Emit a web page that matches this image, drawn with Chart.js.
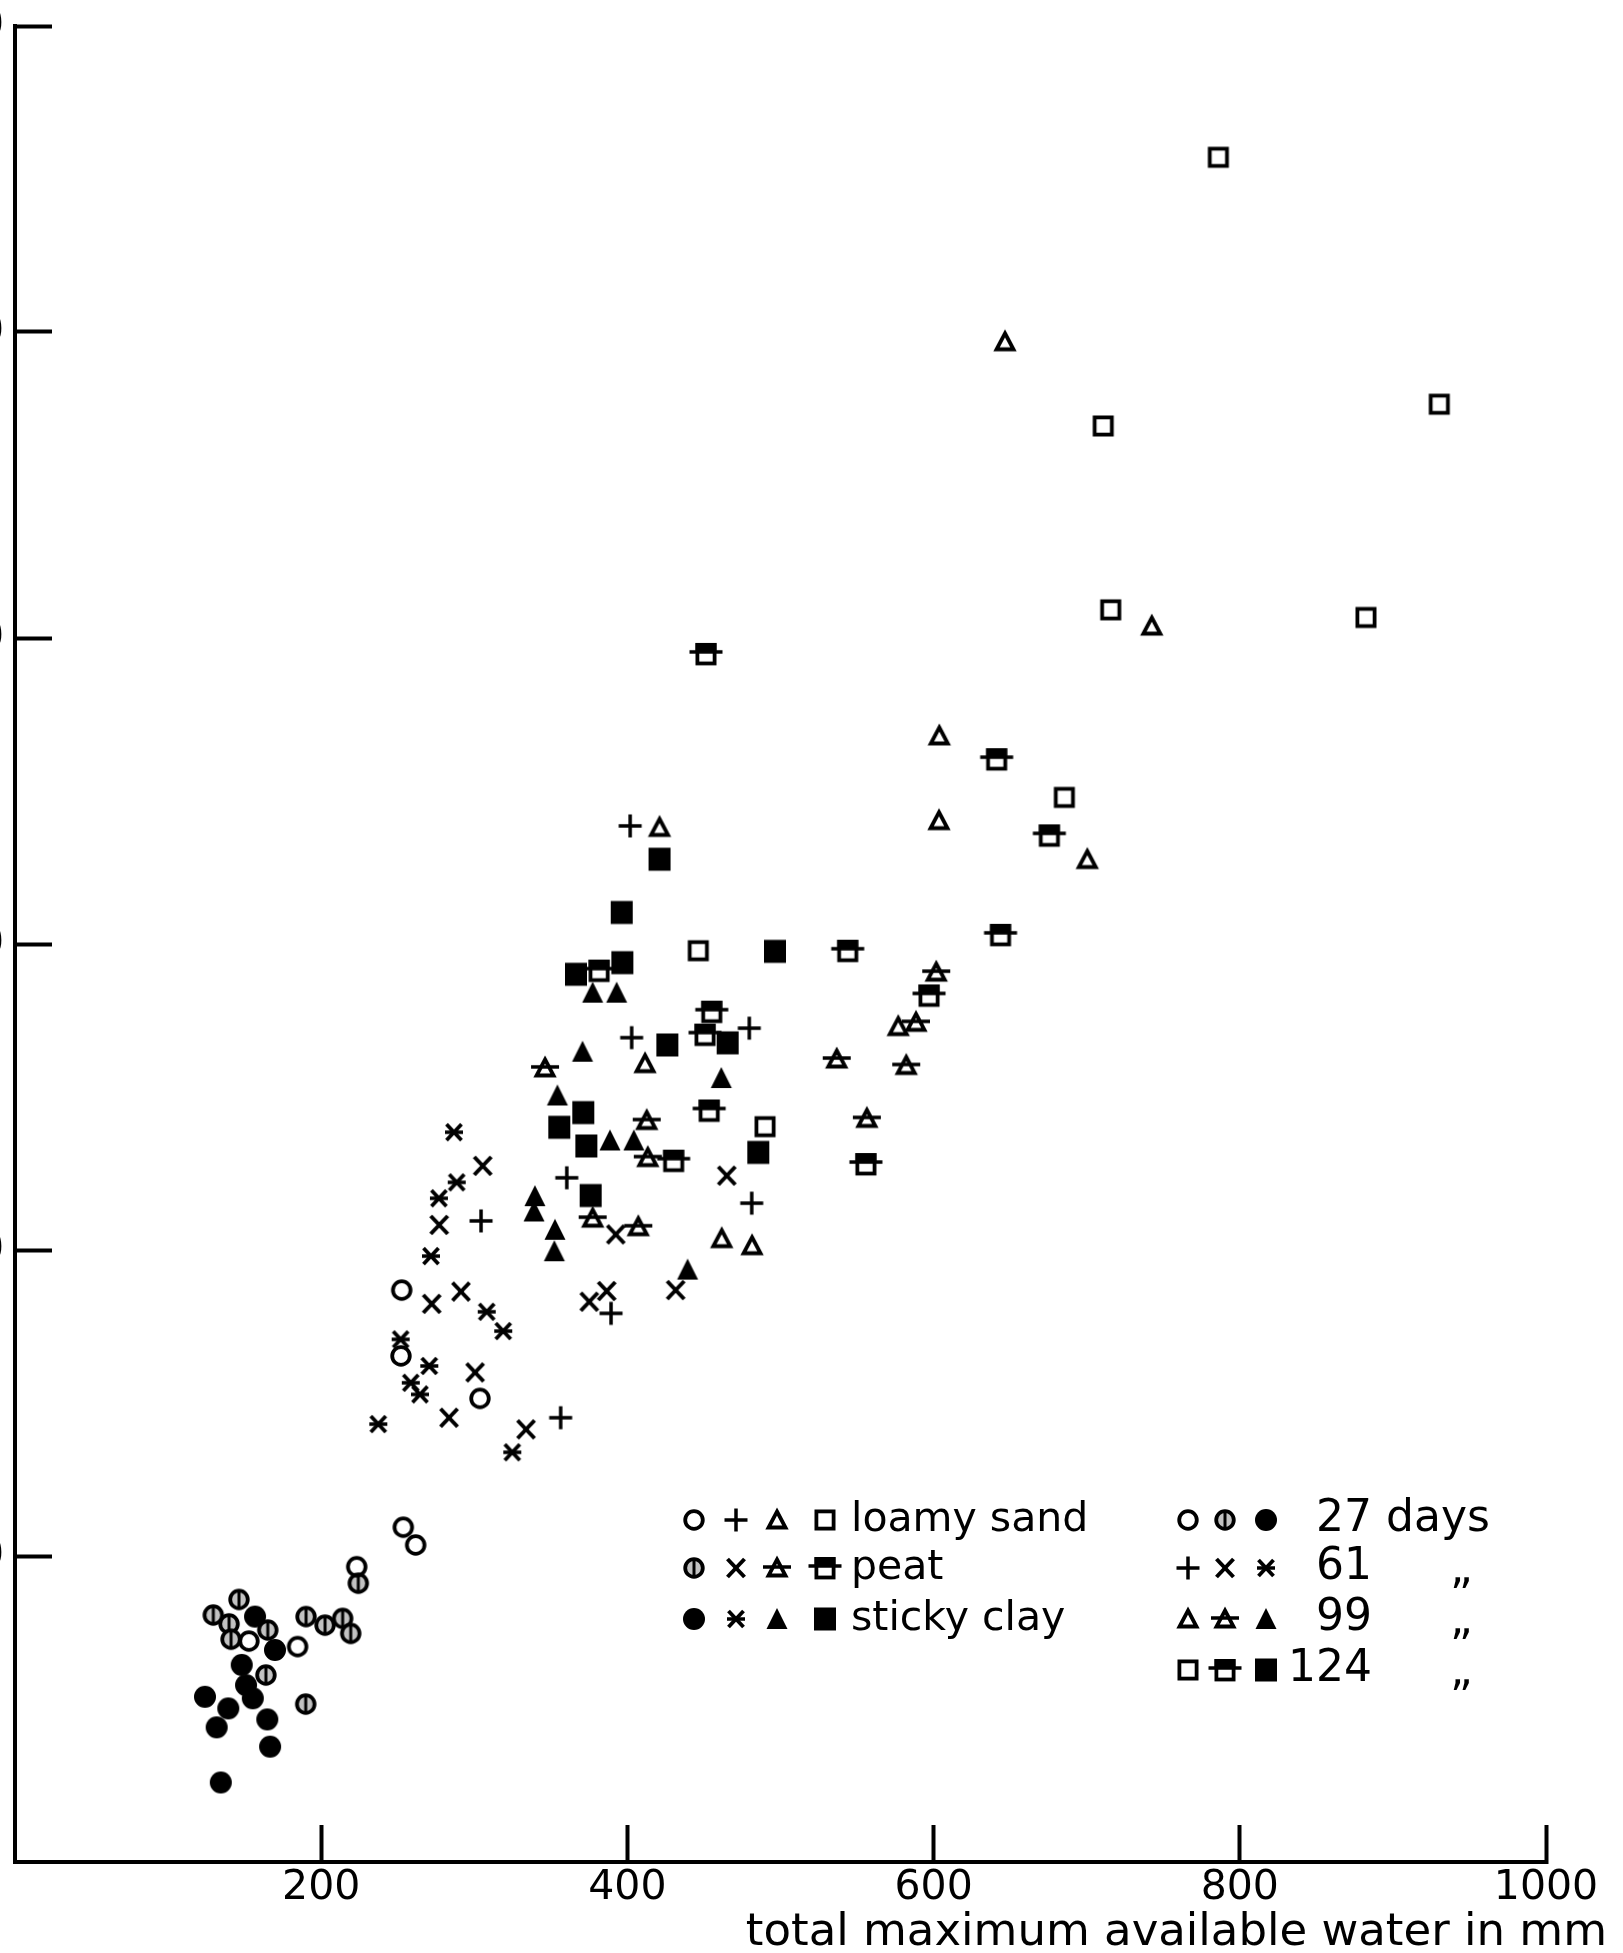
<!DOCTYPE html>
<html>
<head>
<meta charset="utf-8">
<script src="https://cdn.jsdelivr.net/npm/chart.js@4/dist/chart.umd.min.js"></script>
<style>
  html, body { margin: 0; padding: 0; background: #fff; }
  #wrap { position: relative; width: 1623px; height: 1953px; }
</style>
</head>
<body>
<div id="wrap"><canvas id="chart"></canvas></div>
<script>
// legend categories
const soils = ['loamy sand', 'peat', 'sticky clay'];
const days = ['27', '61', '99', '124'];

// axis ticks
const xTickValues = [200, 400, 600, 800, 1000];
const yTickValues = [100, 200, 300, 400, 500, 600];
const xTitle = 'total maximum available water in mm';

// points: [total max available water, y]
const sand27 = [[253.6,109.4],[261.7,103.6],[223.2,96.5],[184.6,70.4],[152.8,72.2],[252.6,186.9],[252.1,165.4],[303.7,151.5]];
const sand61 = [[401.8,338.6],[479.6,272.5],[402.8,269.4],[360.4,223.6],[481.2,215.3],[304.4,209.5],[389.3,179.3],[356.4,145.2]];
const sand99 = [[646.6,496.8],[742.5,403.9],[603.7,368.0],[603.5,340.3],[700.4,327.6],[421.0,338.1],[411.5,260.9],[576.9,273.0],[461.6,203.7],[481.4,201.4]];
const sand124 = [[786.0,557.1],[930.3,476.4],[710.8,469.3],[715.7,409.2],[882.4,406.7],[685.4,347.9],[446.3,297.8],[489.9,240.3]];

const peat27 = [[146.3,85.8],[129.5,80.7],[139.8,77.8],[165.1,75.8],[141.1,72.8],[190.1,80.2],[202.5,77.4],[214.0,79.6],[219.3,74.7],[224.2,91.1],[163.9,61.1],[189.9,51.6]];
const peat61 = [[305.5,227.5],[464.9,224.3],[277.1,208.2],[392.4,205.1],[272.2,182.4],[291.3,186.4],[386.5,186.6],[375.1,183.1],[431.5,186.9],[300.5,160.0],[283.5,145.2],[333.8,141.4]];
const peat99 = [[346.2,259.5],[536.7,262.4],[412.6,242.3],[556.4,243.0],[413.3,230.2],[377.3,210.4],[407.1,207.6],[601.7,290.8],[588.5,274.4],[582.1,260.3]];
const peat124 = [[451.3,394.8],[641.2,360.4],[675.6,335.5],[643.7,303.0],[543.9,297.8],[381.5,291.3],[597.0,283.2],[455.1,277.9],[450.7,270.4],[453.4,245.6],[430.2,229.2],[555.8,228.1]];

const clay27 = [[156.8,80.2],[169.8,69.3],[148.1,64.4],[150.9,57.8],[155.3,53.5],[124.1,54.0],[139.3,50.2],[131.7,44.0],[164.8,46.6],[166.6,37.7],[134.4,26.0]];
const clay61 = [[286.7,238.5],[288.5,222.1],[276.9,216.9],[271.7,198.0],[308.1,179.8],[318.9,173.5],[251.9,170.8],[270.6,162.1],[258.5,156.6],[264.5,152.8],[237.3,143.1],[324.8,133.9]];
const clay99 = [[377.3,284.1],[393.0,284.1],[370.7,264.8],[461.3,256.2],[354.3,250.5],[388.6,235.8],[404.2,235.8],[339.6,217.6],[339.0,212.6],[352.7,206.6],[352.3,199.6],[439.3,193.6]];
const clay124 = [[421.0,327.7],[396.3,310.3],[496.4,297.6],[396.7,293.9],[366.4,290.1],[426.1,267.0],[465.5,267.7],[371.2,244.9],[355.5,240.1],[373.2,234.0],[485.5,231.9],[376.0,217.8]];

const FONT = '"DejaVu Sans", sans-serif';

// draw one plotting symbol on a small canvas, used as pointStyle
function marker(kind) {
  const c = document.createElement('canvas');
  c.width = 44; c.height = 44;
  const g = c.getContext('2d');
  g.translate(22, 22);
  g.strokeStyle = '#000';
  g.fillStyle = '#000';
  const line = (x1, y1, x2, y2, w) => {
    g.lineWidth = w; g.beginPath(); g.moveTo(x1, y1); g.lineTo(x2, y2); g.stroke();
  };
  const tri = () => { g.beginPath(); g.moveTo(0, -8.5); g.lineTo(8.5, 7.5); g.lineTo(-8.5, 7.5); g.closePath(); };
  if (kind === 'circle' || kind === 'circleBar') {
    g.beginPath(); g.arc(0, 0, 8.8, 0, Math.PI * 2);
    if (kind === 'circleBar') { g.fillStyle = '#c2c2c2'; g.fill(); }
    g.lineWidth = 3.8; g.stroke();
    if (kind === 'circleBar') line(0, -8, 0, 8, 3);
  } else if (kind === 'disc') {
    g.beginPath(); g.arc(0, 0, 11, 0, Math.PI * 2); g.fill();
  } else if (kind === 'plus') {
    line(-11.5, 0, 11.5, 0, 3.5); line(0, -11.5, 0, 11.5, 3.5);
  } else if (kind === 'cross') {
    line(-8.5, -9, 8.5, 9, 4); line(8.5, -9, -8.5, 9, 4);
  } else if (kind === 'asterisk') {
    line(-7.5, -8, 7.5, 8, 3.8); line(7.5, -8, -7.5, 8, 3.8); line(-9, 0, 9, 0, 3.5);
  } else if (kind === 'tri') {
    tri(); g.lineWidth = 3.8; g.stroke();
  } else if (kind === 'triBar') {
    tri(); g.lineWidth = 3.8; g.stroke(); line(-14, -1, 14, -1, 3.5);
  } else if (kind === 'triFill') {
    g.beginPath(); g.moveTo(0, -11); g.lineTo(10.5, 10); g.lineTo(-10.5, 10); g.closePath(); g.fill();
  } else if (kind === 'square') {
    g.lineWidth = 3.8; g.strokeRect(-8.6, -8.6, 17.2, 17.2);
  } else if (kind === 'squareBar') {
    g.fillRect(-10.5, -11, 21, 9.5);
    g.lineWidth = 3.8; g.strokeRect(-8.6, -9, 17.2, 18.5);
    line(-16.5, -2, 16.5, -2, 3.5);
  } else if (kind === 'squareFill') {
    g.fillRect(-11, -11.5, 22, 23);
  }
  return c;
}

// symbols: rows = soils, columns = days
const styles = [
  ['circle', 'plus', 'tri', 'square'].map(marker),
  ['circleBar', 'cross', 'triBar', 'squareBar'].map(marker),
  ['disc', 'asterisk', 'triFill', 'squareFill'].map(marker)
];
const seriesData = [
  [sand27, sand61, sand99, sand124],
  [peat27, peat61, peat99, peat124],
  [clay27, clay61, clay99, clay124]
];

const datasets = [];
soils.forEach((soil, i) => {
  days.forEach((d, j) => {
    datasets.push({
      label: soil + ' ' + d + ' days',
      data: seriesData[i][j].map(p => ({ x: p[0], y: p[1] })),
      pointStyle: styles[i][j],
      pointRadius: 11,
      pointHoverRadius: 11,
      showLine: false
    });
  });
});

// legend block drawn in the lower right, as in the figure
const soilLegend = {
  id: 'soilLegend',
  afterDraw(chart) {
    const ctx = chart.ctx;
    ctx.save();
    ctx.fillStyle = '#000';
    ctx.textBaseline = 'middle';
    const rowsL = [1520, 1568, 1619];
    const colsL = [694, 736, 777, 825];
    ctx.font = '41px ' + FONT;
    ctx.textAlign = 'left';
    soils.forEach((s, i) => {
      styles[i].forEach((m, j) => ctx.drawImage(m, colsL[j] - 22, rowsL[i] - 22));
      ctx.fillText(s, 851, rowsL[i]);
    });
    const rowsR = [1520, 1568, 1619, 1670];
    const colsR = [1188, 1225, 1266];
    ctx.font = '44px ' + FONT;
    days.forEach((d, j) => {
      for (let i = 0; i < 3; i++) ctx.drawImage(styles[i][j], colsR[i] - 22, rowsR[j] - 22);
      ctx.textAlign = 'right';
      ctx.fillText(d, 1372, rowsR[j]);
      ctx.textAlign = 'left';
      if (j === 0) ctx.fillText('days', 1386, rowsR[j]);
      else ctx.fillText('\u201E', 1450, rowsR[j] + 4);
    });
    ctx.restore();
  }
};

const hideZero = c => (c.tick && c.tick.value === 0) ? 'rgba(0,0,0,0)' : '#000';
// fixed box sizes; drop the label overflow padding so the plot area sits where the figure has it
const fixBox = (w, h) => s => {
  if (w !== null) s.width = w;
  if (h !== null) s.height = h;
  s.paddingLeft = 0; s.paddingRight = 0; s.paddingTop = 0; s.paddingBottom = 0;
};

new Chart(document.getElementById('chart'), {
  type: 'scatter',
  data: { datasets },
  plugins: [soilLegend],
  options: {
    responsive: true,
    maintainAspectRatio: false,
    animation: false,
    events: [],
    layout: { padding: { top: 26, right: 16, bottom: 0, left: 0 } },
    plugins: {
      legend: { display: false },
      tooltip: { enabled: false },
      title: {
        display: true,
        text: xTitle,
        position: 'bottom',
        align: 'end',
        color: '#000',
        padding: { top: 0, bottom: -3 },
        font: { family: FONT, size: 45, weight: 'normal', lineHeight: 1 }
      }
    },
    scales: {
      x: {
        type: 'linear',
        position: 'bottom',
        min: 0,
        max: 1000,
        border: { display: true, color: '#000', width: 4 },
        grid: { display: true, drawOnChartArea: false, drawTicks: true, tickLength: -37, tickWidth: 4, tickColor: hideZero },
        ticks: {
          stepSize: 200,
          padding: 43,
          color: '#000',
          autoSkip: false,
          maxRotation: 0,
          minRotation: 0,
          font: { family: FONT, size: 41, lineHeight: 1 },
          callback: v => xTickValues.includes(v) ? String(v) : ''
        },
        afterFit: fixBox(null, 49)
      },
      y: {
        type: 'linear',
        position: 'left',
        min: 0,
        max: 600,
        border: { display: true, color: '#000', width: 4 },
        grid: { display: true, drawOnChartArea: false, drawTicks: true, tickLength: -37, tickWidth: 4, tickColor: hideZero },
        ticks: {
          stepSize: 100,
          padding: 48,
          color: '#000',
          font: { family: FONT, size: 41, lineHeight: 1 },
          callback: v => yTickValues.includes(v) ? String(v) : ''
        },
        afterFit: fixBox(15, null)
      },
      yRight: {
        type: 'linear',
        position: 'right',
        display: true,
        min: 0,
        max: 1,
        grid: { display: false },
        border: { display: false },
        ticks: { display: false },
        afterFit: fixBox(61, null)
      }
    }
  }
});
</script>
</body>
</html>
